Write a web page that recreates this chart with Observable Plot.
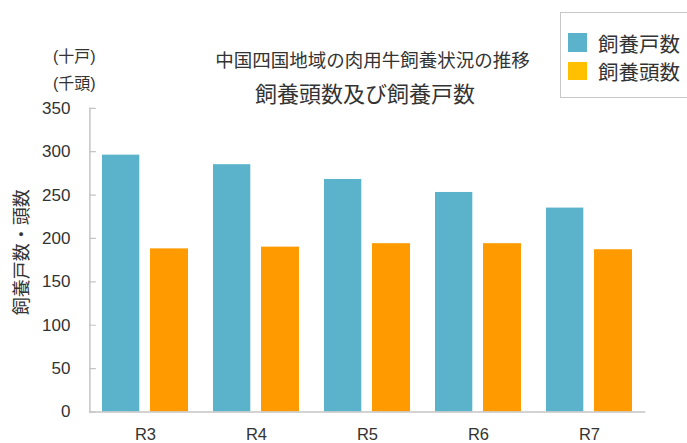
<!DOCTYPE html>
<html>
<head>
<meta charset="utf-8">
<script src="https://cdn.jsdelivr.net/npm/d3@7"></script>
<script src="https://cdn.jsdelivr.net/npm/@observablehq/plot@0.6"></script>
<style>
  html, body { margin: 0; padding: 0; background: #fff; }
  #wrap { position: relative; width: 687px; height: 443px; overflow: hidden;
          font-family: "Liberation Sans", "Noto Sans CJK JP", sans-serif; color: #333; }
  .t { position: absolute; white-space: nowrap; line-height: 1; }
  .cjk { font-family: "Noto Sans CJK JP", sans-serif; }
  .sw { position: absolute; width: 18.5px; height: 18.5px; }
</style>
</head>
<body>
<div id="wrap">
  <div id="chart"></div>
  <div class="t" id="u1" style="left:53px; top:48.5px; font-size:16px;"></div>
  <div class="t" id="u2" style="left:53px; top:76px; font-size:16px;"></div>
  <div class="t cjk" id="t1" style="left:372.5px; top:50px; font-size:18.5px; transform:translateX(-50%);"></div>
  <div class="t cjk" id="t2" style="left:365px; top:80.5px; font-size:22px; transform:translateX(-50%);"></div>
  <div style="position:absolute; left:559.5px; top:11.5px; width:140px; height:86.5px; border:1px solid #c8c8c8; box-sizing:border-box; background:#fff;"></div>
  <div class="sw" id="sw1" style="left:568.3px; top:33px;"></div>
  <div class="sw" id="sw2" style="left:568.3px; top:61.7px;"></div>
  <div class="t cjk" id="l1" style="left:598px; top:32.5px; font-size:20.5px;"></div>
  <div class="t cjk" id="l2" style="left:598px; top:61px; font-size:20.5px;"></div>
</div>
<script>
const categories = ["R3", "R4", "R5", "R6", "R7"];
const households = [296, 285, 268, 253, 235];   // 飼養戸数 (十戸)
const headcount = [188, 190, 194, 194, 187];    // 飼養頭数 (千頭)
const yTicks = [0, 50, 100, 150, 200, 250, 300, 350];
const seriesNames = ["飼養戸数", "飼養頭数"];
const barColors = ["#5AB2CB", "#FF9A00"];
const legendColors = ["#5AB2CB", "#FFC000"];
const titleText = "中国四国地域の肉用牛飼養状況の推移";
const subtitleText = "飼養頭数及び飼養戸数";
const yLabel = "飼養戸数・頭数";
const unitLabels = ["(十戸)", "(千頭)"];

const table = categories.map((c, i) => ({cat: c, households: households[i], headcount: headcount[i]}));

const tickShape = {draw(context, l) { context.moveTo(0, 0); context.lineTo(0, -l); }};

const chart = Plot.plot({
  width: 687,
  height: 443,
  marginLeft: 89.4,
  marginRight: 41.6,
  marginTop: 107.8,
  marginBottom: 31.5,
  style: {fontFamily: "Liberation Sans, Noto Sans CJK JP, sans-serif", fontSize: "17px", color: "#333", background: "transparent"},
  x: {domain: categories, paddingInner: 0.227, paddingOuter: 0.1135, axis: null},
  y: {domain: [0, 350], axis: null},
  marks: [
    Plot.barY(table, {x: "cat", y: "households", fill: barColors[0], insetRight: 48.7}),
    Plot.barY(table, {x: "cat", y: "headcount", fill: barColors[1], insetLeft: 48}),
    Plot.ruleY([0], {stroke: "#c4c4c4", strokeWidth: 1.5}),
    Plot.frame({anchor: "left", stroke: "#c4c4c4", strokeWidth: 1.5}),
    Plot.vector(yTicks, {y: (d) => d, frameAnchor: "left", length: 5.5, rotate: 90, anchor: "start",
      shape: tickShape, stroke: "#c4c4c4", strokeWidth: 1.2}),
    Plot.text(yTicks, {y: (d) => d, text: (d) => String(d), frameAnchor: "left", dx: -19.5, textAnchor: "end",
      lineAnchor: "middle", fontSize: 17, fill: "#333", fontFamily: "Liberation Sans, sans-serif"}),
    Plot.text(categories, {x: (d) => d, text: (d) => d, frameAnchor: "bottom", dy: 16.5, lineAnchor: "top",
      fontSize: 16.5, fill: "#333", fontFamily: "Liberation Sans, sans-serif"}),
    Plot.text([yLabel], {frameAnchor: "left", dx: -68, dy: -8, rotate: -90, textAnchor: "middle", lineAnchor: "middle",
      fontSize: 18, fill: "#333", fontFamily: "Noto Sans CJK JP, sans-serif"})
  ]
});
document.getElementById("chart").appendChild(chart);

document.getElementById("u1").textContent = unitLabels[0];
document.getElementById("u2").textContent = unitLabels[1];
document.getElementById("t1").textContent = titleText;
document.getElementById("t2").textContent = subtitleText;
document.getElementById("l1").textContent = seriesNames[0];
document.getElementById("l2").textContent = seriesNames[1];
document.getElementById("sw1").style.background = legendColors[0];
document.getElementById("sw2").style.background = legendColors[1];
</script>
</body>
</html>
